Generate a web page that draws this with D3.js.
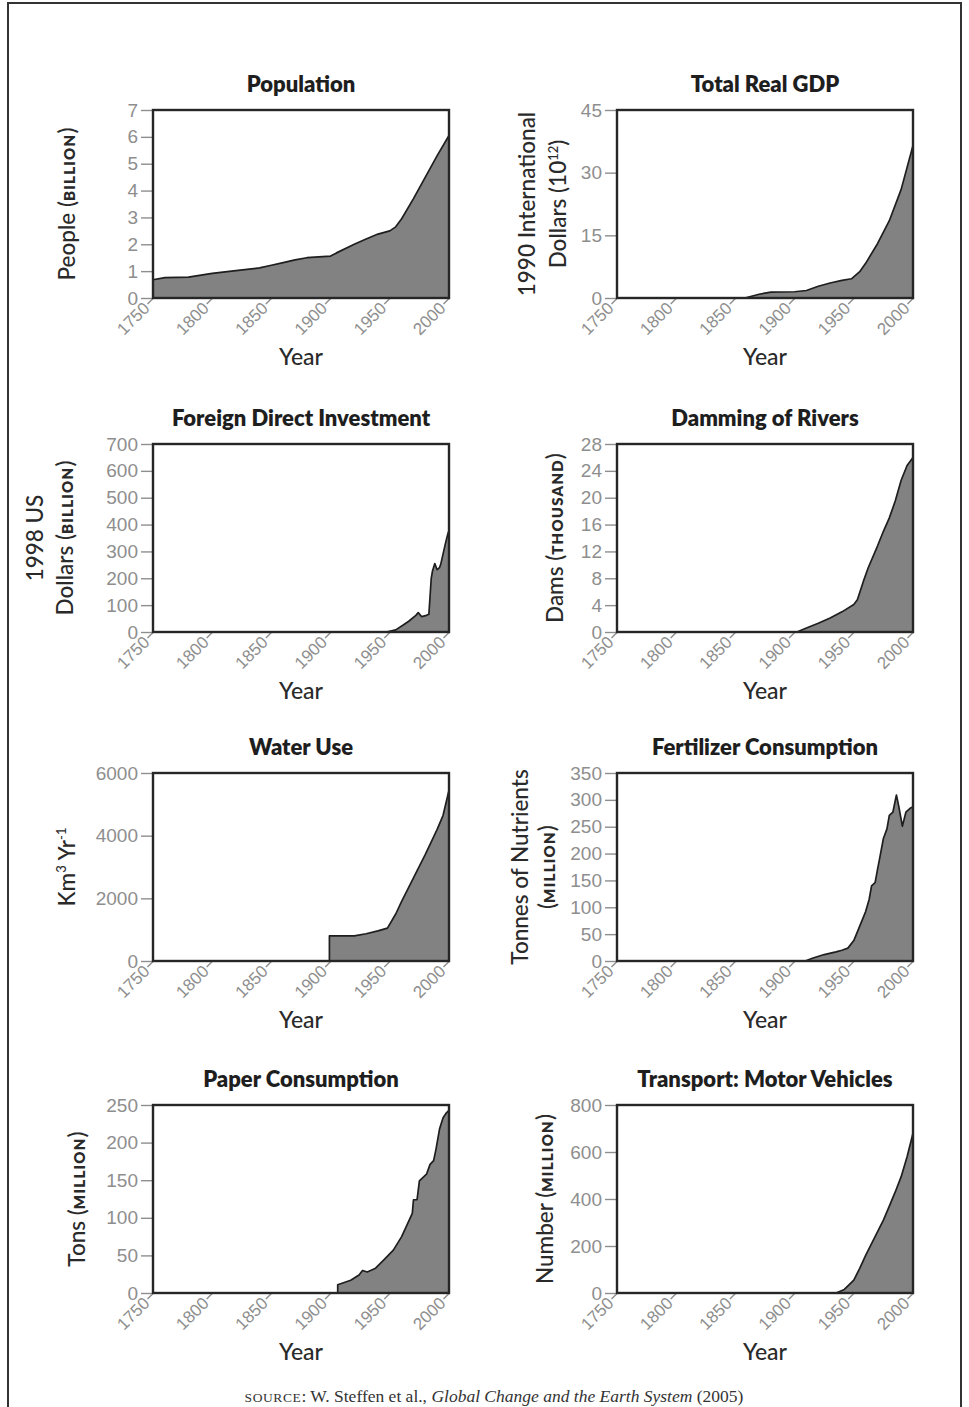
<!DOCTYPE html>
<html>
<head>
<meta charset="utf-8">
<script src="https://cdn.jsdelivr.net/npm/d3@7"></script>
<style>
  body { margin: 0; background: #fff; }
  svg { display: block; font-family: Lato, "Open Sans", sans-serif; }
  .title { font-size: 22px; font-weight: 800; fill: #1e1e1e; }
  .ylab { font-size: 22.5px; font-weight: 500; fill: #2a2a2a; }
  .ylab .sc { font-size: 15px; font-weight: 800; letter-spacing: 1.2px; }
  .ylab .sup { font-size: 13px; }
  .xlab { font-size: 23px; font-weight: 500; fill: #2a2a2a; }
  .tick text { fill: #8e8e8e; }
  .tick line { stroke: #8e8e8e; stroke-width: 1.4; }
  .source { font-family: "Liberation Serif", "DejaVu Serif", serif; font-size: 17.5px; fill: #333; }
</style>
</head>
<body>
<div id="chart"></div>
<script>
// ticks del eje x, comunes a todos los paneles
const xTicks = [1750, 1800, 1850, 1900, 1950, 2000];

// población (miles de millones)
const popYears  = [1750, 1760, 1780, 1800, 1820, 1840, 1850, 1860, 1870, 1880, 1900, 1905, 1920, 1930, 1940, 1950, 1955, 1960, 1970, 1980, 1990, 2000];
const popValues = [0.68, 0.76, 0.78, 0.92, 1.02, 1.12, 1.22, 1.32, 1.42, 1.5, 1.56, 1.68, 2.0, 2.2, 2.38, 2.5, 2.65, 2.95, 3.7, 4.5, 5.3, 6.05];
const popTicks  = [0, 1, 2, 3, 4, 5, 6, 7];

// PIB real total (10^12 dólares internacionales de 1990)
const gdpYears  = [1750, 1858, 1870, 1880, 1900, 1910, 1920, 1930, 1940, 1948, 1955, 1960, 1970, 1980, 1990, 2000];
const gdpValues = [0, 0, 0.9, 1.4, 1.5, 1.8, 2.8, 3.6, 4.2, 4.6, 6.3, 8.3, 13, 18.5, 26, 36.5];
const gdpTicks  = [0, 15, 30, 45];

// inversión extranjera directa (miles de millones, dólares de 1998)
const fdiYears  = [1750, 1947, 1955, 1961, 1966, 1972, 1974, 1977, 1981, 1983, 1985, 1986, 1988, 1990, 1992, 1993, 1997, 1999, 2000];
const fdiValues = [0, 0, 8, 25, 40, 62, 72, 57, 62, 66, 200, 226, 255, 232, 240, 252, 330, 365, 378];
const fdiTicks  = [0, 100, 200, 300, 400, 500, 600, 700];

// presas (miles)
const damYears  = [1750, 1902, 1910, 1920, 1930, 1940, 1950, 1953, 1958, 1962, 1970, 1975, 1980, 1985, 1990, 1995, 2000];
const damValues = [0, 0, 0.6, 1.3, 2.1, 3.0, 4.1, 4.8, 7.5, 9.5, 12.8, 15, 17, 19.5, 22.6, 24.8, 26];
const damTicks  = [0, 4, 8, 12, 16, 20, 24, 28];

// uso de agua (km3 al año)
const waterYears  = [1750, 1899, 1899, 1920, 1930, 1940, 1948, 1955, 1960, 1970, 1980, 1990, 1995, 2000];
const waterValues = [0, 0, 800, 800, 870, 960, 1050, 1500, 1900, 2650, 3400, 4200, 4650, 5450];
const waterTicks  = [0, 2000, 4000, 6000];

// consumo de fertilizantes (millones de toneladas de nutrientes)
const fertYears  = [1750, 1909, 1915, 1925, 1935, 1940, 1945, 1950, 1955, 1960, 1963, 1965, 1968, 1970, 1972, 1975, 1978, 1980, 1983, 1986, 1988, 1991, 1994, 1998, 2000];
const fertValues = [0, 0, 5, 12, 17, 20, 24, 38, 65, 92, 115, 140, 146, 170, 193, 228, 246, 271, 277, 309, 288, 251, 277, 285, 287];
const fertTicks  = [0, 50, 100, 150, 200, 250, 300, 350];

// consumo de papel (millones de toneladas)
const paperYears  = [1750, 1906, 1906, 1917, 1924, 1927, 1931, 1938, 1945, 1953, 1960, 1969, 1970, 1973, 1975, 1981, 1984, 1987, 1989, 1992, 1995, 1998, 2000];
const paperValues = [0, 0, 11, 17, 24, 30, 28, 33, 44, 57, 75, 106, 124, 124, 149, 158, 171, 176, 191, 218, 233, 240, 243];
const paperTicks  = [0, 50, 100, 150, 200, 250];

// vehículos a motor (millones)
const carYears  = [1750, 1935, 1942, 1947, 1950, 1955, 1960, 1965, 1970, 1975, 1980, 1985, 1990, 1995, 2000];
const carValues = [0, 0, 15, 40, 55, 105, 160, 210, 260, 310, 370, 430, 495, 580, 680];
const carTicks  = [0, 200, 400, 600, 800];

// tamaño de cada caja y posición de columnas y filas
const W = 296, H = 188;
const colX = [153, 617];
const rowY = [110, 444, 773, 1105];

// paneles: el texto del eje y va con tspans para versalitas y superíndices
const panels = [
  { title: 'Population', years: popYears, values: popValues, ticks: popTicks, col: 0, row: 0,
    ylab: ['People (<tspan class="sc">BILLION</tspan>)'], ylabX: [-86] },
  { title: 'Total Real GDP', years: gdpYears, values: gdpValues, ticks: gdpTicks, col: 1, row: 0,
    ylab: ['1990 International', 'Dollars (10<tspan class="sup" dy="-8">12</tspan><tspan dy="8">)</tspan>'], ylabX: [-90, -59] },
  { title: 'Foreign Direct Investment', years: fdiYears, values: fdiValues, ticks: fdiTicks, col: 0, row: 1,
    ylab: ['1998 US', 'Dollars (<tspan class="sc">BILLION</tspan>)'], ylabX: [-118, -88] },
  { title: 'Damming of Rivers', years: damYears, values: damValues, ticks: damTicks, col: 1, row: 1,
    ylab: ['Dams (<tspan class="sc">THOUSAND</tspan>)'], ylabX: [-62] },
  { title: 'Water Use', years: waterYears, values: waterValues, ticks: waterTicks, col: 0, row: 2,
    ylab: ['Km<tspan class="sup" dy="-9">3</tspan><tspan dy="9"> Yr</tspan><tspan class="sup" dy="-9">-1</tspan>'], ylabX: [-86] },
  { title: 'Fertilizer Consumption', years: fertYears, values: fertValues, ticks: fertTicks, col: 1, row: 2,
    ylab: ['Tonnes of Nutrients', '(<tspan class="sc">MILLION</tspan>)'], ylabX: [-97, -70] },
  { title: 'Paper Consumption', years: paperYears, values: paperValues, ticks: paperTicks, col: 0, row: 3,
    ylab: ['Tons (<tspan class="sc">MILLION</tspan>)'], ylabX: [-76] },
  { title: 'Transport: Motor Vehicles', years: carYears, values: carValues, ticks: carTicks, col: 1, row: 3,
    ylab: ['Number (<tspan class="sc">MILLION</tspan>)'], ylabX: [-72] }
];

const svg = d3.select('#chart')
  .append('svg')
  .attr('width', 969)
  .attr('height', 1407);

// marco exterior
svg.append('rect')
  .attr('x', 8).attr('y', 3)
  .attr('width', 953).attr('height', 1430)
  .attr('fill', 'none')
  .attr('stroke', '#333')
  .attr('stroke-width', 2);

// escala x compartida
const x = d3.scaleLinear().domain([1750, 2000]).range([0, W]);

panels.forEach(p => {
  const g = svg.append('g')
    .attr('transform', `translate(${colX[p.col]}, ${rowY[p.row]})`);

  const y = d3.scaleLinear()
    .domain([0, d3.max(p.ticks)])
    .range([H, 0]);

  const data = p.years.map((d, i) => ({ year: d, value: p.values[i] }));

  // área gris
  const area = d3.area()
    .x(d => x(d.year))
    .y0(H)
    .y1(d => y(d.value));

  const line = d3.line()
    .x(d => x(d.year))
    .y(d => y(d.value));

  g.append('path')
    .datum(data)
    .attr('d', area)
    .attr('fill', '#828282');

  g.append('path')
    .datum(data)
    .attr('d', line)
    .attr('fill', 'none')
    .attr('stroke', '#1e1e1e')
    .attr('stroke-width', 1.7)
    .attr('stroke-linejoin', 'round');

  // eje y
  const yAxis = d3.axisLeft(y)
    .tickValues(p.ticks)
    .tickFormat(d => d)
    .tickSize(12)
    .tickPadding(3);

  g.append('g')
    .attr('class', 'y axis')
    .call(yAxis)
    .call(a => a.select('.domain').remove())
    .selectAll('text')
    .style('font-size', '19px');

  // eje x con etiquetas giradas
  const xAxis = d3.axisBottom(x)
    .tickValues(xTicks)
    .tickFormat(d => d)
    .tickSize(0);

  const xg = g.append('g')
    .attr('class', 'x axis')
    .attr('transform', `translate(0, ${H})`)
    .call(xAxis)
    .call(a => a.select('.domain').remove());

  xg.selectAll('.tick line')
    .attr('x2', -6)
    .attr('y2', 6);

  xg.selectAll('.tick text')
    .attr('transform', 'rotate(-45)')
    .attr('x', -10)
    .attr('y', 0)
    .attr('dy', '0.35em')
    .style('text-anchor', 'end')
    .style('font-size', '17px');

  // caja
  g.append('rect')
    .attr('width', W)
    .attr('height', H)
    .attr('fill', 'none')
    .attr('stroke', '#262626')
    .attr('stroke-width', 2.4);

  // título
  g.append('text')
    .attr('class', 'title')
    .attr('x', W / 2)
    .attr('y', -18)
    .attr('text-anchor', 'middle')
    .text(p.title);

  // etiqueta del eje x
  g.append('text')
    .attr('class', 'xlab')
    .attr('x', W / 2)
    .attr('y', H + 67)
    .attr('text-anchor', 'middle')
    .text('Year');

  // etiqueta del eje y (una o dos líneas)
  p.ylab.forEach((t, i) => {
    g.append('text')
      .attr('class', 'ylab')
      .attr('transform', `translate(${p.ylabX[i]}, ${H / 2}) rotate(-90)`)
      .attr('text-anchor', 'middle')
      .attr('dy', '0.35em')
      .html(t);
  });
});

// fuente
const source = svg.append('text')
  .attr('class', 'source')
  .attr('x', 494)
  .attr('y', 1402)
  .attr('text-anchor', 'middle');

source.append('tspan').style('font-size', '13.5px').style('letter-spacing', '0.6px').text('SOURCE');
source.append('tspan').text(': W. Steffen et al., ');
source.append('tspan').style('font-style', 'italic').text('Global Change and the Earth System');
source.append('tspan').text(' (2005)');
</script>
</body>
</html>
